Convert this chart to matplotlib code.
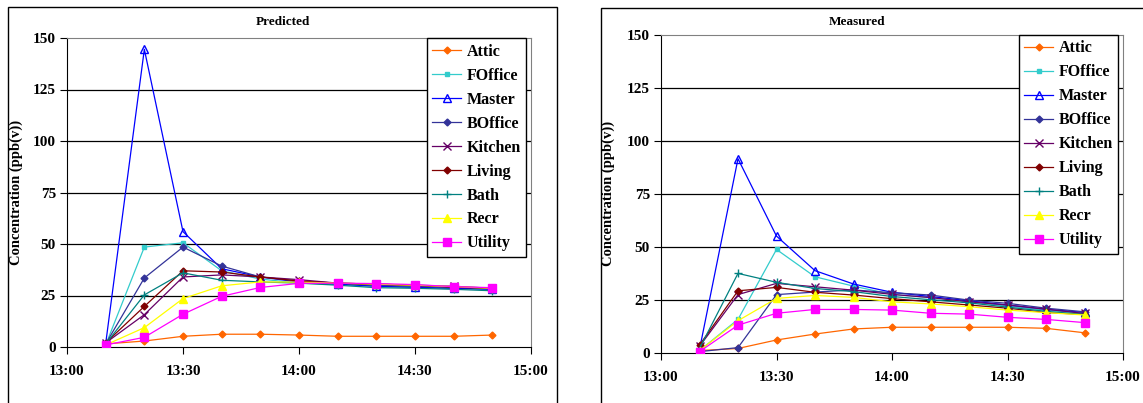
import matplotlib
matplotlib.use('Agg')
import matplotlib.pyplot as plt
from matplotlib.patches import Rectangle

plt.rcParams['font.family'] = ['Liberation Serif', 'DejaVu Serif']
plt.rcParams['font.weight'] = 'bold'

# sample times
times = ["13:10", "13:20", "13:30", "13:40", "13:50", "14:00",
         "14:10", "14:20", "14:30", "14:40", "14:50"]
tick_labels = ["13:00", "13:30", "14:00", "14:30", "15:00"]
rooms = ["Attic", "FOffice", "Master", "BOffice", "Kitchen",
         "Living", "Bath", "Recr", "Utility"]

# predicted concentrations (ppb(v))
pred_attic   = [1.5, 2.9, 5.2, 6.2, 6.2, 5.8, 5.2, 5.2, 5.2, 5.2, 5.8]
pred_foffice = [1.0, 48.5, 50.6, 37.0, 33.0, 31.0, 30.5, 29.5, 29.0, 28.5, 28.0]
pred_master  = [1.6, 144.5, 56.0, 38.0, 34.0, 31.5, 30.5, 29.5, 29.0, 28.5, 28.0]
pred_boffice = [1.5, 33.5, 48.5, 39.3, 34.0, 32.0, 31.0, 30.0, 29.5, 29.0, 28.5]
pred_kitchen = [2.0, 15.7, 34.0, 35.0, 34.0, 32.7, 31.0, 30.5, 30.0, 29.5, 28.5]
pred_living  = [2.0, 19.7, 37.0, 36.4, 34.0, 32.0, 31.0, 30.5, 30.0, 29.0, 28.5]
pred_bath    = [1.5, 25.3, 36.0, 32.4, 31.6, 31.0, 30.0, 28.8, 28.5, 28.0, 27.3]
pred_recr    = [1.0, 9.4, 23.5, 29.7, 31.6, 31.5, 31.0, 30.5, 30.0, 29.3, 28.5]
pred_utility = [1.0, 4.7, 15.9, 24.6, 28.9, 30.9, 31.0, 30.8, 30.3, 29.3, 28.8]

# measured concentrations (ppb(v))
meas_attic   = [1.0, 2.0, 6.0, 8.8, 11.2, 12.0, 12.0, 12.0, 12.0, 11.5, 9.4]
meas_foffice = [1.0, 15.7, 48.7, 35.8, 31.4, 27.5, 26.0, 24.0, 22.0, 20.0, 18.5]
meas_master  = [1.5, 91.5, 55.0, 38.7, 32.4, 28.5, 26.5, 24.5, 22.5, 20.5, 19.0]
meas_boffice = [0.5, 2.4, 27.4, 28.6, 29.6, 28.3, 27.2, 24.8, 23.3, 21.0, 19.3]
meas_kitchen = [3.0, 27.4, 32.7, 31.1, 29.5, 27.5, 26.0, 24.0, 22.5, 20.5, 18.5]
meas_living  = [3.6, 29.2, 30.8, 28.5, 27.2, 25.5, 24.0, 22.5, 21.0, 19.0, 18.0]
meas_bath    = [2.0, 37.4, 33.2, 30.3, 28.8, 26.5, 25.0, 23.5, 21.5, 19.5, 18.0]
meas_recr    = [1.0, 15.1, 25.6, 27.0, 26.1, 24.0, 23.0, 21.7, 20.1, 18.9, 17.8]
meas_utility = [0.5, 13.0, 18.6, 20.4, 20.4, 20.1, 18.6, 18.2, 16.7, 15.7, 14.2]

predicted = [pred_attic, pred_foffice, pred_master, pred_boffice, pred_kitchen,
             pred_living, pred_bath, pred_recr, pred_utility]
measured = [meas_attic, meas_foffice, meas_master, meas_boffice, meas_kitchen,
            meas_living, meas_bath, meas_recr, meas_utility]

# excel-ish styles per room: color, marker, size, filled
styles = [
    ('#FF6600', 'D', 3.5, True),
    ('#33CCCC', 's', 2.5, True),
    ('#0000FF', '^', 5.5, False),
    ('#333399', 'D', 3.5, True),
    ('#660066', 'x', 6, True),
    ('#800000', 'D', 3.5, True),
    ('#008080', '+', 6, True),
    ('#FFFF00', '^', 6, True),
    ('#FF00FF', 's', 5.5, True),
]


def to_min(t):
    h, m = t.split(':')
    return (int(h) - 13) * 60 + int(m)


x = [to_min(t) for t in times]
xt = [to_min(t) for t in tick_labels]

fig = plt.figure(figsize=(11.43, 4.03), dpi=100)

# outer chart frames
fig.patches.append(Rectangle((8 / 1143, -0.05), 549 / 1143, 1.05 - 7 / 403,
                             transform=fig.transFigure, fill=False,
                             edgecolor='black', linewidth=1))
fig.patches.append(Rectangle((601 / 1143, -0.05), 0.5, 1.05 - 8 / 403,
                             transform=fig.transFigure, fill=False,
                             edgecolor='black', linewidth=1))


def draw(rect, data, title, title_x, ylab_x):
    ax = fig.add_axes(rect)
    for gy in [25, 50, 75, 100, 125]:
        ax.axhline(gy, color='black', linewidth=0.9, zorder=1)
    for vals, name, (c, m, ms, filled) in zip(data, rooms, styles):
        ax.plot(x, vals, color=c, marker=m, markersize=ms, linewidth=0.9,
                markerfacecolor=c if filled else 'none', markeredgecolor=c,
                markeredgewidth=1.0, label=name, zorder=3)
    ax.set_xlim(0, 120)
    ax.set_ylim(0, 150)
    ax.set_xticks(xt)
    ax.set_xticklabels(tick_labels)
    ax.set_yticks([0, 25, 50, 75, 100, 125, 150])
    ax.tick_params(labelsize=11, direction='out', length=5, width=0.8,
                   pad=8)
    ax.tick_params(axis='y', pad=3)
    for sp in ['top', 'right']:
        ax.spines[sp].set_color('#808080')
    for sp in ['left', 'bottom']:
        ax.spines[sp].set_color('black')
    ax.set_ylabel('Concentration (ppb(v))', fontsize=10.5, fontweight='bold')
    ax.yaxis.set_label_coords(ylab_x, 0.5)
    leg = ax.legend(loc='upper right', bbox_to_anchor=(0.99, 1.0),
                    fontsize=11.5, frameon=True, fancybox=False,
                    edgecolor='black', framealpha=1, handlelength=1.8,
                    labelspacing=0.5, borderpad=0.35, handletextpad=0.35,
                    borderaxespad=0)
    leg.get_frame().set_linewidth(1.0)
    fig.text(title_x, 1 - 22 / 403, title, ha='center', va='center',
             fontsize=9.5, fontweight='bold')
    return ax


draw([67 / 1143, 1 - 347 / 403, 464 / 1143, 309 / 403], predicted,
     'Predicted', 283 / 1143, -0.095)
draw([661 / 1143, 1 - 352.7 / 403, 462 / 1143, 318 / 403], measured,
     'Measured', 857 / 1143, -0.1)

fig.savefig('out.png', dpi=100)
